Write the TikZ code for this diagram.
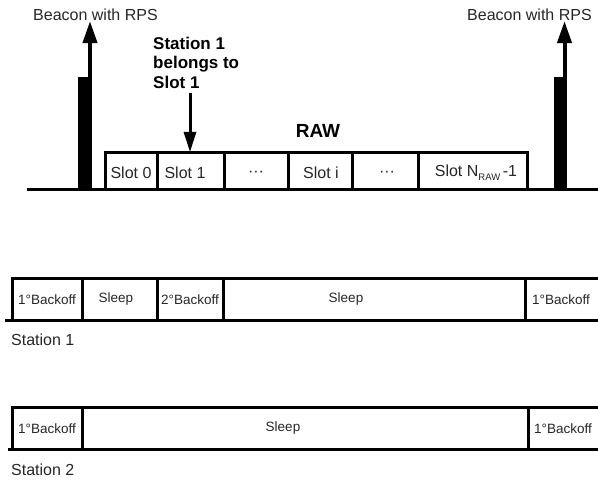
\documentclass[tikz,border=0pt]{standalone}
\usepackage{fontspec}
\setmainfont{Liberation Sans}
\usepackage{tikz}
\usetikzlibrary{arrows.meta, positioning}
\tikzset{
	tline/.style  ={line width=3pt},
	sidel/.style  ={line width=3.5pt},
	upflow/.style ={line width=4pt, -{Triangle[length=22pt, width=14pt]}},
	dnflow/.style ={line width=3pt, -{Triangle[length=20pt, width=12pt]}},
	lbl/.style    ={inner sep=0pt, text=black!85, font=\fontsize{16}{19}\selectfont},
	rowlbl/.style ={inner sep=0pt, text=black!85, font=\fontsize{13.5}{16}\selectfont},
	hdr/.style    ={inner sep=0pt, font=\bfseries\fontsize{19}{22}\selectfont},
	note/.style   ={inner sep=0pt, align=left, font=\bfseries\fontsize{17}{19.5}\selectfont},
}

\begin{document}
\begin{tikzpicture}[x=1pt, y=-1pt]
	\useasboundingbox (0,0) rectangle (598,484);
	% beacons and the RAW slots
	\draw[tline] (27,189.5) -- (598,189.5);
	\fill (78,77) rectangle (92,191);
	\fill (554,77) rectangle (567,191);
	\node[lbl] (bcnL) at (95.5,15) {Beacon with RPS};
	\node[lbl] (bcnR) at (529.5,15) {Beacon with RPS};
	\coordinate (barL) at (90,78);
	\coordinate (barR) at (564.5,78);
	\draw[upflow] (barL) -- (barL |- bcnL.south);
	\draw[upflow] (barR) -- (barR |- bcnR.south);
	\draw[tline] (105,189) -- (105,153) -- (527,153) -- (527,189);
	\draw[tline] (157,153) -- (157,189);
	\draw[tline] (224,153) -- (224,189);
	\draw[tline] (288,153) -- (288,189);
	\draw[tline] (352,153) -- (352,189);
	\draw[tline] (418,153) -- (418,189);
	\node[lbl] (s0) at (131,173) {Slot 0};
	\node[lbl] (s1) at (185,173) {Slot 1};
	\node[lbl] (d1) at (256,174) {···};
	\node[lbl] (si) at (321,173) {Slot i};
	\node[lbl] (d2) at (387,174) {···};
	\node[lbl] (sn) at (476,173) {Slot N\raisebox{-0.45ex}{\fontsize{9.5}{10}\selectfont RAW}\,-1};
	\node[hdr] (raw) at (318,131) {RAW};
	\node[note, anchor=west] (st1note) at (153,62.5) {Station 1\\belongs to\\Slot 1};
	\coordinate (s1top) at (190,152);
	\draw[dnflow] (s1top |- st1note.south) ++(0,5) -- (s1top);
	% station 1
	\draw[tline] (598,278.5) -- (12.5,278.5);
	\draw[tline] (5,320.5) -- (598,320.5);
	\draw[sidel] (12.5,277) -- (12.5,322);
	\draw[tline] (82,278.5) -- (82,320.5);
	\draw[tline] (157,278.5) -- (157,320.5);
	\draw[tline] (223,278.5) -- (223,320.5);
	\draw[tline] (525,278.5) -- (525,320.5);
	\node[rowlbl] (a1) at (47,300) {1°Backoff};
	\node[rowlbl] (a2) at (116,299) {Sleep};
	\node[rowlbl] (a3) at (190,300) {2°Backoff};
	\node[rowlbl] (a4) at (346,299) {Sleep};
	\node[rowlbl] (a5) at (561,300) {1°Backoff};
	\node[lbl, anchor=west] (st1) at (11,340) {Station 1};
	% station 2
	\draw[tline] (598,407.5) -- (12.5,407.5);
	\draw[tline] (8,449.5) -- (598,449.5);
	\draw[sidel] (12.5,406) -- (12.5,451);
	\draw[tline] (82,407.5) -- (82,449.5);
	\draw[tline] (528,407.5) -- (528,449.5);
	\node[rowlbl] (b1) at (47,429) {1°Backoff};
	\node[rowlbl] (b2) at (283,428) {Sleep};
	\node[rowlbl] (b3) at (563,429) {1°Backoff};
	\node[lbl, anchor=west] (st2) at (11,470) {Station 2};
\end{tikzpicture}
\end{document}
